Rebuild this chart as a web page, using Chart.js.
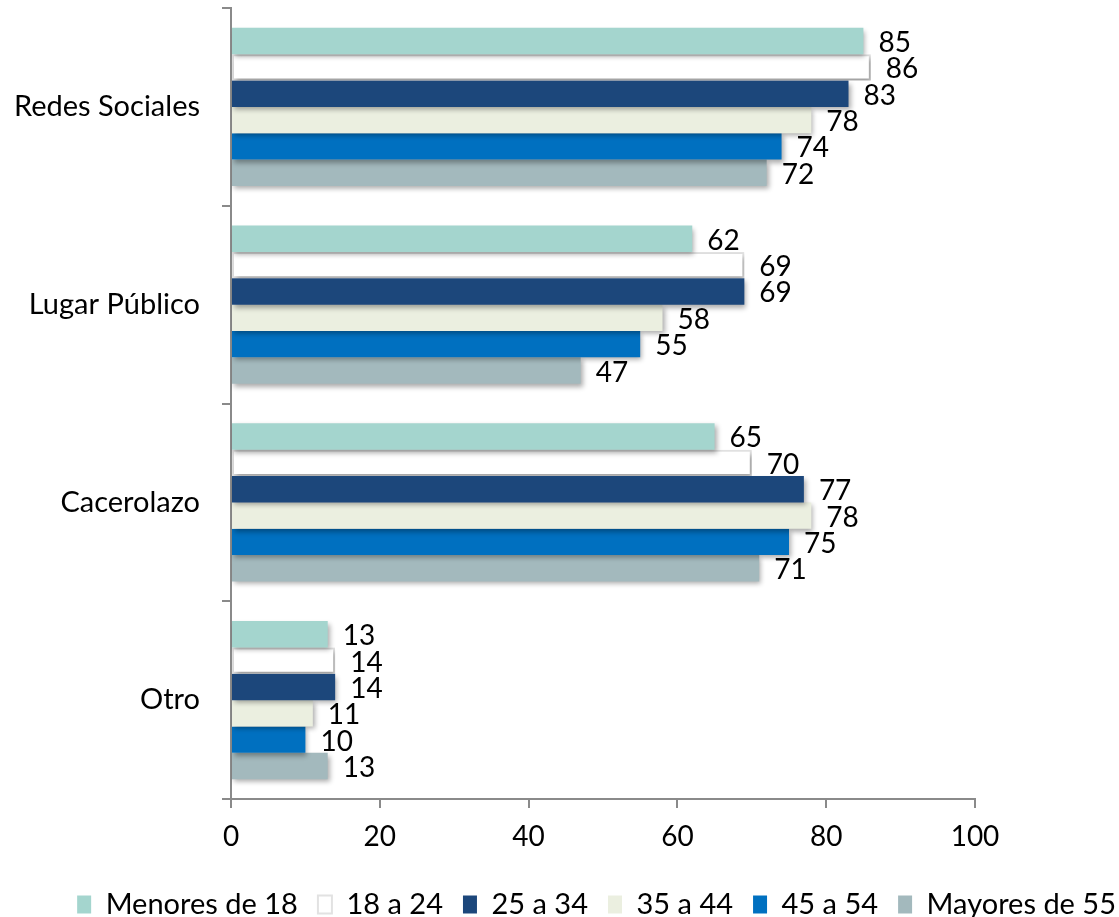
<!DOCTYPE html>
<html><head><meta charset="utf-8">
<script src="https://cdn.jsdelivr.net/npm/chart.js@4/dist/chart.umd.min.js"></script>
<style>html,body{margin:0;padding:0;background:#fff}</style>
</head><body>
<canvas id="c" width="1119" height="917"></canvas>
<script>
const categories = ['Redes Sociales', 'Lugar Público', 'Cacerolazo', 'Otro'];
const seriesNames = ['Menores de 18', '18 a 24', '25 a 34', '35 a 44', '45 a 54', 'Mayores de 55'];
const menores18 = [85, 62, 65, 13];
const de18a24 = [86, 69, 70, 14];
const de25a34 = [83, 69, 77, 14];
const de35a44 = [78, 58, 78, 11];
const de45a54 = [74, 55, 75, 10];
const mayores55 = [72, 47, 71, 13];
const xTicks = [0, 20, 40, 60, 80, 100];

const seriesValues = [menores18, de18a24, de25a34, de35a44, de45a54, mayores55];
const fills = ['#A4D5CE', '#FFFFFF', '#1C477B', '#EBEFE0', '#0070C0', '#A3B9BD'];
const borders = ['#A4D5CE', '#E2E2E2', '#1C477B', '#E2E6D6', '#0070C0', '#A3B9BD'];
const FONT = 'Lato';
const AXIS = '#8A8A8A';

const barShadow = {
  id: 'barShadow',
  beforeDatasetsDraw(chart) {
    const c = chart.ctx; c.save();
    c.shadowColor = 'rgba(0,0,0,0.33)'; c.shadowBlur = 5; c.shadowOffsetX = 2; c.shadowOffsetY = 3;
  },
  afterDatasetsDraw(chart) { chart.ctx.restore(); }
};
const valueLabels = {
  id: 'valueLabels',
  afterDatasetsDraw(chart) {
    const ctx = chart.ctx; ctx.save();
    ctx.font = '28px ' + FONT; ctx.fillStyle = '#000'; ctx.textBaseline = 'middle'; ctx.textAlign = 'left';
    chart.data.datasets.forEach((ds, i) => {
      chart.getDatasetMeta(i).data.forEach((bar, j) => {
        ctx.fillText(String(ds.data[j]), bar.x + 15, bar.y + 2);
      });
    });
    ctx.restore();
  }
};
const legendShift = {
  id: 'legendShift',
  afterLayout(chart) {
    const lg = chart.legend;
    if (lg) { lg.top += 12; lg.bottom += 12; lg.left += 17; lg.right += 17; }
  }
};

function draw() {
  new Chart(document.getElementById('c'), {
    type: 'bar',
    data: {
      labels: categories,
      datasets: seriesNames.map((n, i) => ({
        label: n, data: seriesValues[i], backgroundColor: fills[i], borderColor: borders[i],
        borderWidth: i === 1 ? 2 : 0, borderSkipped: i === 1 ? false : 'start',
        categoryPercentage: 0.8, barPercentage: 1.0
      }))
    },
    options: {
      indexAxis: 'y', responsive: false, animation: false,
      layout: { autoPadding: false, padding: { top: 8, bottom: 0, left: 0, right: 0 } },
      plugins: {
        tooltip: { enabled: false },
        legend: {
          position: 'bottom', align: 'end',
          labels: { font: { family: FONT, size: 29 }, color: '#000', boxWidth: 14, boxHeight: 18, padding: 20 }
        }
      },
      scales: {
        x: {
          type: 'linear', min: 0, max: 100,
          afterBuildTicks: s => { s.ticks = xTicks.map(v => ({ value: v })); },
          ticks: { font: { family: FONT, size: 28 }, color: '#000', padding: 12 },
          grid: { display: true, drawOnChartArea: false, drawTicks: true, tickLength: 9, color: AXIS, lineWidth: 2 },
          border: { display: true, color: AXIS, width: 2 },
          afterFit: s => { s.height = 59; s.paddingLeft = 0; s.paddingRight = 0; }
        },
        y: {
          ticks: { font: { family: FONT, size: 29 }, color: '#000', padding: 22 },
          grid: { display: true, offset: true, drawOnChartArea: false, drawTicks: true, tickLength: 9, color: AXIS, lineWidth: 2 },
          border: { display: true, color: AXIS, width: 2 },
          afterFit: s => { s.width = 231; s.paddingTop = 0; s.paddingBottom = 0; }
        },
        yRight: {
          type: 'linear', position: 'right', display: true, min: 0, max: 1,
          ticks: { display: false }, grid: { display: false }, border: { display: false },
          afterFit: s => { s.width = 144; s.paddingTop = 0; s.paddingBottom = 0; }
        }
      }
    },
    plugins: [barShadow, valueLabels, legendShift]
  });
}
document.fonts.load('29px ' + FONT).then(draw, draw);
</script>
</body></html>
